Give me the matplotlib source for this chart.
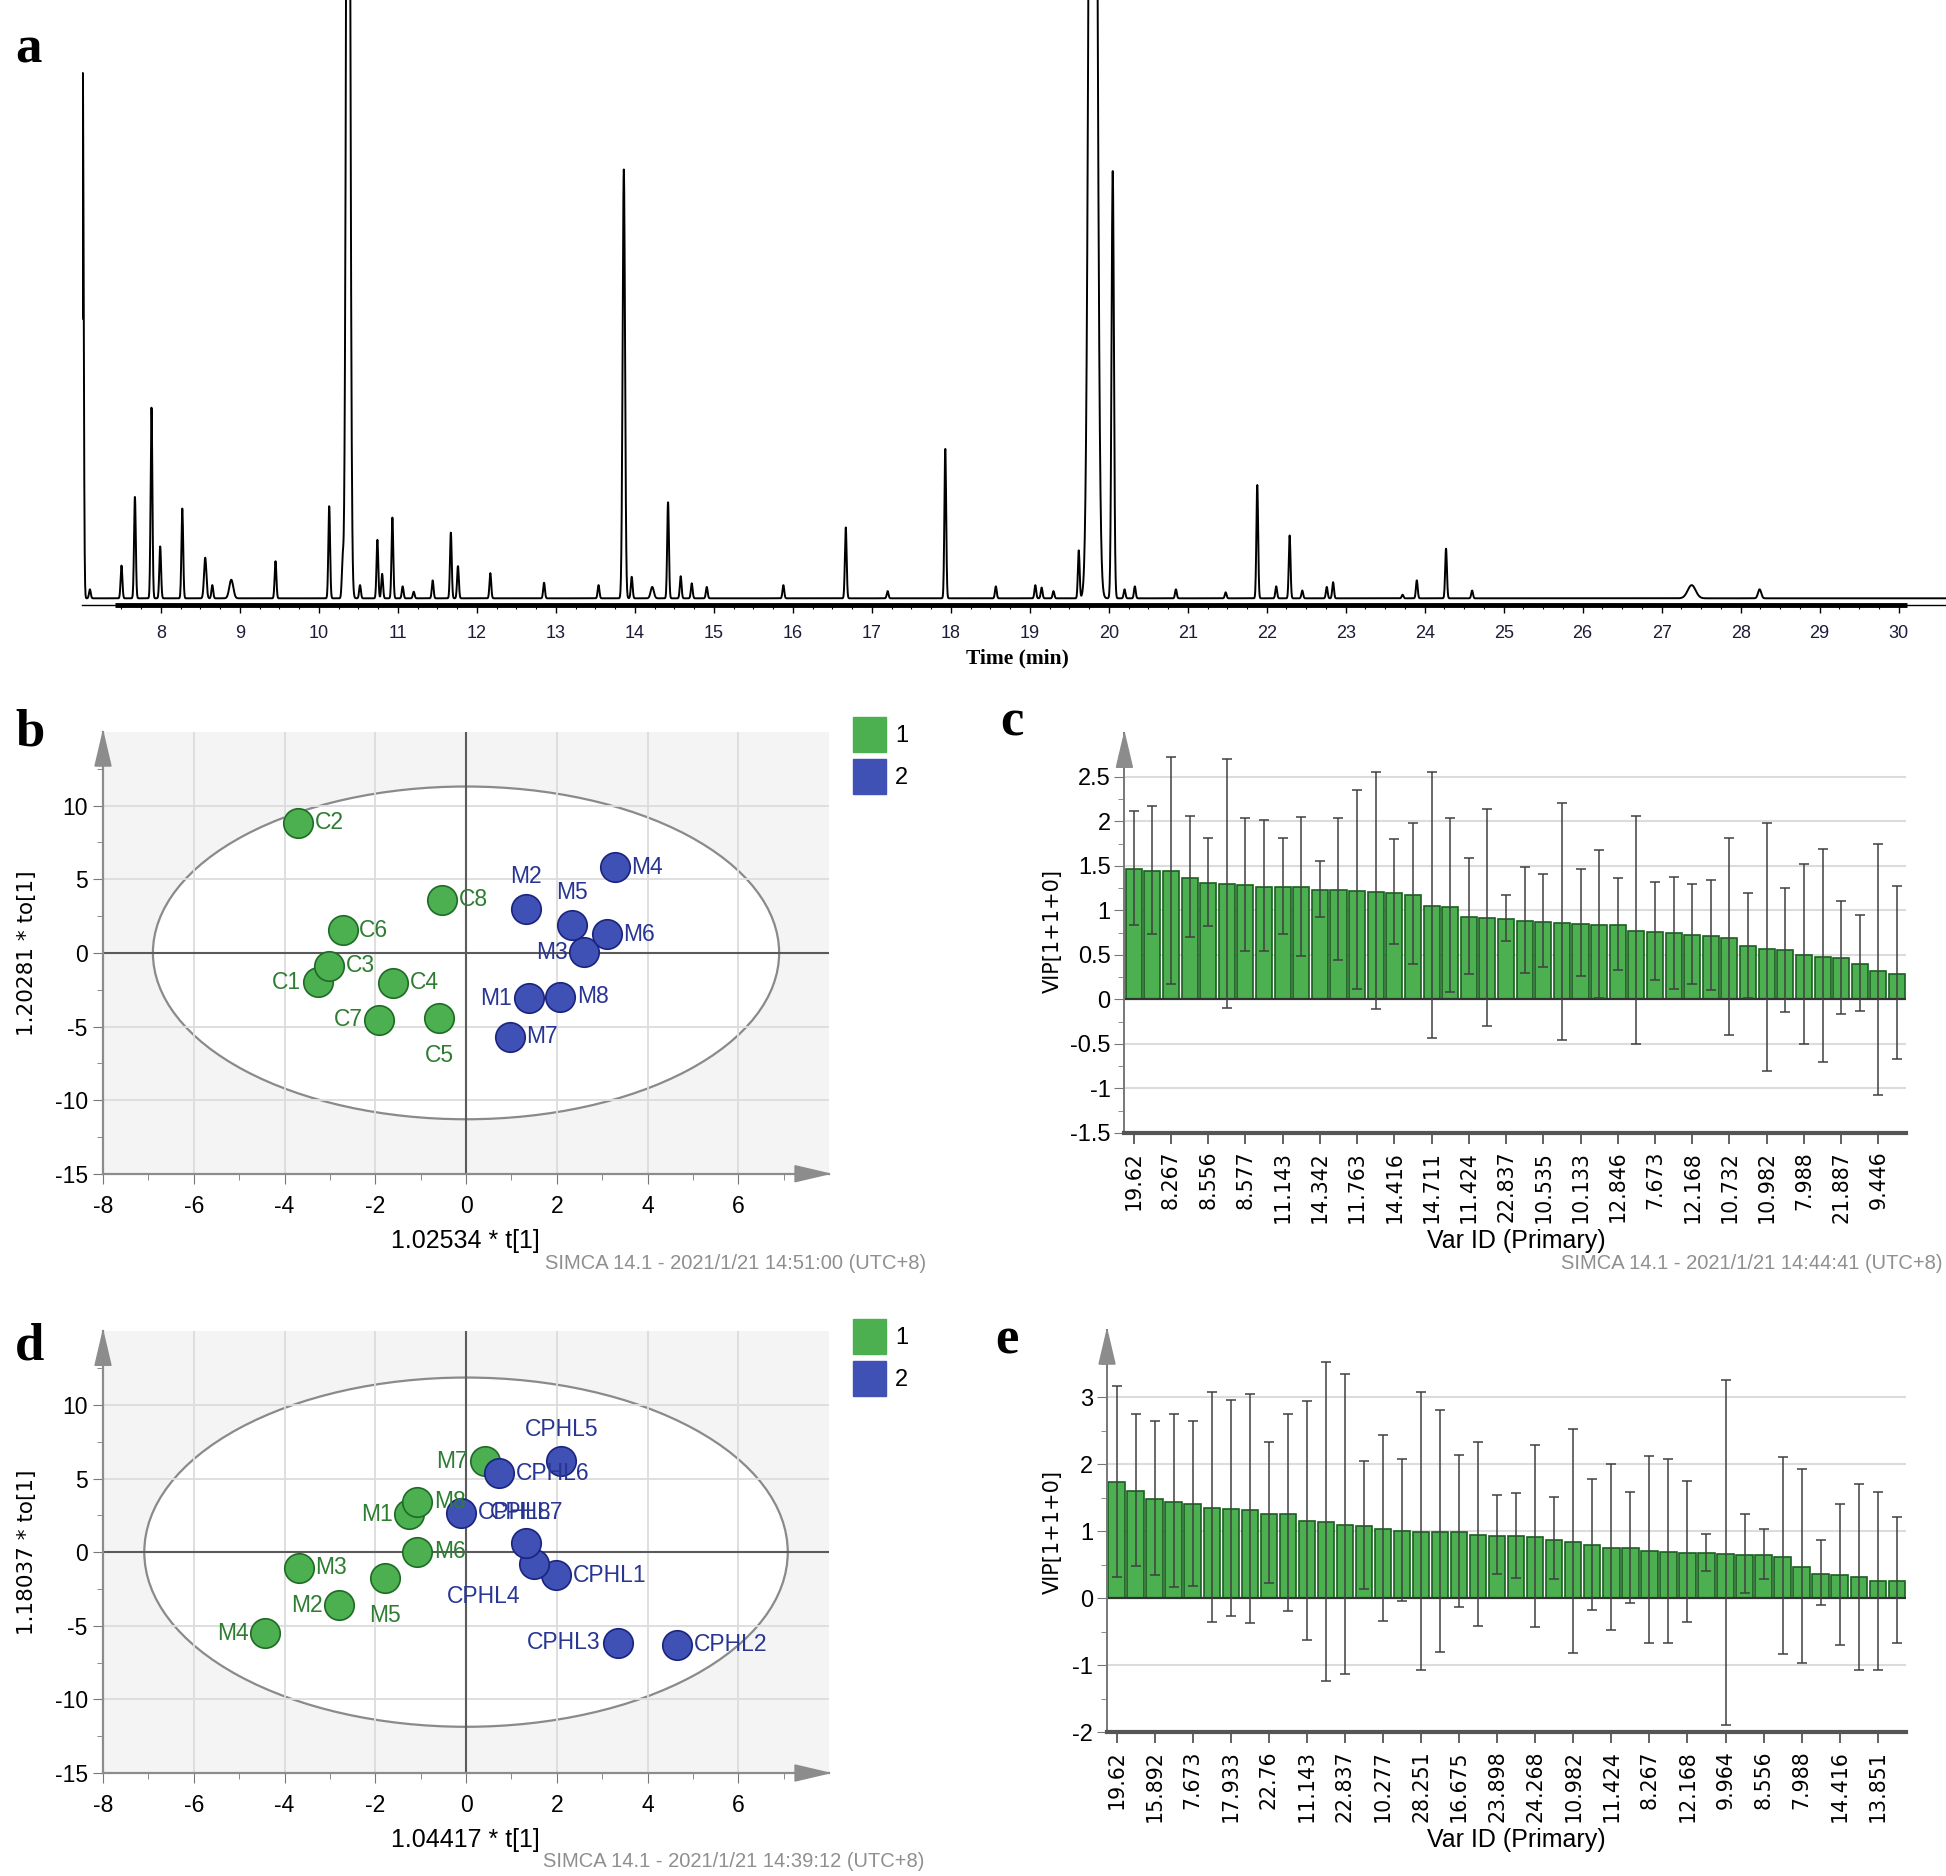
import matplotlib
matplotlib.use('Agg')
import matplotlib.pyplot as plt
import numpy as np
from matplotlib.patches import Ellipse, Polygon, Rectangle
from matplotlib import font_manager

plt.rcParams['axes.unicode_minus'] = False

installed = {f.name for f in font_manager.fontManager.ttflist}
NARROW = 'Liberation Sans Narrow' if 'Liberation Sans Narrow' in installed else 'Liberation Sans'
SERIF = 'Liberation Serif'

# ---- panel a: chromatogram peak table (retention time, relative height, width)
peak_rt = [7.01, 7.10, 7.50, 7.67, 7.88, 7.99, 8.27, 8.56, 8.65, 8.89, 9.45, 10.13, 10.30, 10.37,
           10.52, 10.74, 10.80, 10.93, 11.06, 11.20, 11.44, 11.67, 11.76, 12.17, 12.85, 13.54,
           13.86, 13.96, 14.22, 14.42, 14.58, 14.72, 14.91, 15.88, 16.67, 17.20, 17.93, 18.57,
           19.07, 19.15, 19.30, 19.62, 19.80, 20.05, 20.20, 20.33, 20.85, 21.48, 21.88, 22.12,
           22.29, 22.45, 22.76, 22.84, 23.72, 23.90, 24.27, 24.60, 27.38, 28.24]
peak_h = [0.88, 0.015, 0.055, 0.17, 0.32, 0.087, 0.15, 0.068, 0.022, 0.031, 0.062, 0.154, 0.06, 2.2,
          0.022, 0.098, 0.041, 0.135, 0.02, 0.011, 0.03, 0.11, 0.054, 0.042, 0.026, 0.022,
          0.717, 0.036, 0.019, 0.161, 0.037, 0.025, 0.019, 0.022, 0.119, 0.012, 0.25, 0.02,
          0.022, 0.018, 0.012, 0.08, 3.0, 0.714, 0.015, 0.02, 0.015, 0.01, 0.19, 0.02,
          0.105, 0.013, 0.019, 0.027, 0.006, 0.03, 0.083, 0.013, 0.022, 0.015]
peak_w = {8.56: 0.015, 8.89: 0.025, 10.37: 0.022, 13.86: 0.015, 14.22: 0.02, 19.80: 0.04,
          20.05: 0.015, 27.38: 0.05, 28.24: 0.02}

# ---- panel b: OPLS-DA scores
b_names = ['C1', 'C2', 'C3', 'C4', 'C5', 'C6', 'C7', 'C8',
           'M1', 'M2', 'M3', 'M4', 'M5', 'M6', 'M7', 'M8']
b_t = [-3.26, -3.70, -3.01, -1.60, -0.59, -2.72, -1.91, -0.53,
       1.38, 1.33, 2.61, 3.28, 2.34, 3.10, 0.96, 2.08]
b_to = [-1.99, 8.83, -0.88, -2.04, -4.40, 1.53, -4.55, 3.62,
        -3.07, 2.99, 0.03, 5.81, 1.91, 1.28, -5.68, -2.99]
b_class = [1] * 8 + [2] * 8

# ---- panel d: OPLS-DA scores
d_names = ['M1', 'M2', 'M3', 'M4', 'M5', 'M6', 'M7', 'M8',
           'CPHL1', 'CPHL2', 'CPHL3', 'CPHL4', 'CPHL5', 'CPHL6', 'CPHL7', 'CPHL8']
d_t = [-1.25, -2.79, -3.69, -4.42, -1.79, -1.07, 0.41, -1.07,
       1.99, 4.66, 3.34, 1.49, 2.10, 0.73, 1.33, -0.10]
d_to = [2.57, -3.61, -1.07, -5.52, -1.75, 0.03, 6.18, 3.43,
        -1.58, -6.28, -6.15, -0.81, 6.18, 5.37, 0.64, 2.67]
d_class = [1] * 8 + [2] * 8

# ---- panel c: VIP
c_labels = ['19.62', '8.267', '8.556', '8.577', '11.143', '14.342', '11.763', '14.416', '14.711',
            '11.424', '22.837', '10.535', '10.133', '12.846', '7.673', '12.168', '10.732',
            '10.982', '7.988', '21.887', '9.446']
c_vip = [1.46, 1.44, 1.44, 1.36, 1.31, 1.30, 1.28, 1.26, 1.26, 1.26, 1.23, 1.23, 1.22, 1.21,
         1.20, 1.17, 1.05, 1.04, 0.93, 0.91, 0.90, 0.88, 0.87, 0.86, 0.85, 0.84, 0.84, 0.77,
         0.76, 0.74, 0.72, 0.71, 0.69, 0.60, 0.57, 0.55, 0.50, 0.48, 0.46, 0.40, 0.32, 0.29]
c_hi = [2.12, 2.17, 2.72, 2.06, 1.81, 2.70, 2.04, 2.02, 1.81, 2.05, 1.56, 2.04, 2.35, 2.56,
        1.80, 1.98, 2.56, 2.04, 1.59, 2.14, 1.17, 1.49, 1.41, 2.21, 1.46, 1.68, 1.36, 2.06,
        1.32, 1.37, 1.30, 1.34, 1.81, 1.19, 1.98, 1.25, 1.52, 1.69, 1.10, 0.95, 1.75, 1.27]
c_lo = [0.83, 0.73, 0.17, 0.70, 0.82, -0.10, 0.54, 0.54, 0.73, 0.49, 0.92, 0.44, 0.12, -0.11,
        0.62, 0.40, -0.43, 0.08, 0.29, -0.30, 0.65, 0.30, 0.36, -0.46, 0.26, 0.02, 0.33, -0.50,
        0.22, 0.12, 0.17, 0.11, -0.40, 0.02, -0.81, -0.14, -0.50, -0.70, -0.16, -0.13, -1.07, -0.67]

# ---- panel e: VIP
e_labels = ['19.62', '15.892', '7.673', '17.933', '22.76', '11.143', '22.837', '10.277', '28.251',
            '16.675', '23.898', '24.268', '10.982', '11.424', '8.267', '12.168', '9.964', '8.556',
            '7.988', '14.416', '13.851']
e_vip = [1.73, 1.60, 1.48, 1.44, 1.40, 1.35, 1.33, 1.32, 1.26, 1.25, 1.15, 1.13, 1.09, 1.08,
         1.03, 1.00, 0.99, 0.99, 0.98, 0.94, 0.93, 0.92, 0.91, 0.87, 0.83, 0.79, 0.75, 0.74,
         0.71, 0.69, 0.68, 0.67, 0.66, 0.65, 0.64, 0.62, 0.47, 0.36, 0.34, 0.31, 0.26, 0.26]
e_hi = [3.16, 2.74, 2.64, 2.74, 2.65, 3.07, 2.96, 3.05, 2.33, 2.74, 2.94, 3.53, 3.35, 2.04,
        2.44, 2.07, 3.08, 2.81, 2.13, 2.33, 1.54, 1.57, 2.28, 1.51, 2.52, 1.78, 2.00, 1.58,
        2.12, 2.08, 1.74, 0.95, 3.25, 1.25, 1.03, 2.11, 1.93, 0.86, 1.40, 1.70, 1.59, 1.21]
e_lo = [0.32, 0.48, 0.35, 0.17, 0.18, -0.35, -0.27, -0.37, 0.22, -0.20, -0.62, -1.24, -1.14, 0.14,
        -0.34, -0.05, -1.07, -0.80, -0.14, -0.41, 0.36, 0.30, -0.43, 0.29, -0.82, -0.18, -0.47, -0.07,
        -0.67, -0.67, -0.35, 0.41, -1.90, 0.08, 0.28, -0.84, -0.97, -0.11, -0.70, -1.07, -1.07, -0.67]

GREEN, GREEN_EDGE, GREEN_TXT = '#4caf50', '#1f6b25', '#2e7d32'
BLUE, BLUE_EDGE, BLUE_TXT = '#3f51b5', '#1a237e', '#283593'
GRID = '#dcdcdc'

W, H = 1568.0, 1512.0  # layout measured on the shrunk reference


def fx(x):
    return x / W


def fy(y):
    return 1 - y / H


fig = plt.figure(figsize=(19.46, 18.76), dpi=100)
FIG_W, FIG_H = 1946.0, 1876.0


def spine_arrow(ax, up=True, color='#8c8c8c'):
    pos = ax.get_position()
    wpx, hpx = pos.width * FIG_W, pos.height * FIG_H
    if up:
        pts = [(-8 / wpx, 1 - 34 / hpx), (8 / wpx, 1 - 34 / hpx), (0, 1)]
    else:
        pts = [(1 - 34 / wpx, -8 / hpx), (1 - 34 / wpx, 8 / hpx), (1, 0)]
    ax.add_patch(Polygon(pts, closed=True, transform=ax.transAxes, color=color,
                         clip_on=False, zorder=6))


# ================= panel a =================
ax = fig.add_axes([82 / FIG_W, fy(488), 1 - 82 / FIG_W, 488 / H])
t = np.linspace(6.995, 30.6, 9000)
sig = np.zeros_like(t)
for rt, h in zip(peak_rt, peak_h):
    w = peak_w.get(rt, 0.011)
    sig += h * np.exp(-0.5 * ((t - rt) / w) ** 2)
ax.plot(t, sig, color='black', lw=1.4)
ax.set_xlim(7.0, 30.6)
ax.set_ylim(-0.012, 1.0)
for s in ['top', 'right', 'left']:
    ax.spines[s].set_visible(False)
ax.spines['bottom'].set_linewidth(1.0)
ax.plot([7.42, 30.11], [-0.012, -0.012], color='black', lw=3.5, clip_on=False,
        solid_capstyle='butt')
ax.set_yticks([])
ax.set_xticks(range(8, 31))
ax.set_xticks(np.arange(7.5, 30.01, 0.25), minor=True)
ax.tick_params(axis='x', which='major', length=6, width=1, pad=8, labelsize=13,
               labelcolor='#1c1c3a')
ax.tick_params(axis='x', which='minor', length=3, width=0.8)
for lab in ax.get_xticklabels():
    lab.set_fontfamily('Liberation Sans')
fig.text(fx(820), fy(531), 'Time (min)', ha='center', va='center', family=SERIF,
         weight='bold', fontsize=15.5)


# ================= panels b / d =================
def score_plot(rect, xs, ys, names, cls, ell, place, xlabel, ylabel, xl_pos, yl_pos,
               stamp, stamp_pos, legend_y):
    ax = fig.add_axes(rect)
    ax.set_facecolor('#f4f4f4')
    ax.set_xlim(-8, 8)
    ax.set_ylim(-15, 15)
    ax.add_patch(Ellipse((0, 0), 2 * ell[0], 2 * ell[1], facecolor='white',
                         edgecolor='#8a8a8a', lw=1.6, zorder=1))
    for gx in range(-6, 7, 2):
        ax.axvline(gx, color=GRID, lw=1.3, zorder=1.5)
    for gy in [-10, -5, 5, 10]:
        ax.axhline(gy, color=GRID, lw=1.3, zorder=1.5)
    ax.axvline(0, color='#5a5a5a', lw=1.5, zorder=2)
    ax.axhline(0, color='#5a5a5a', lw=1.5, zorder=2)
    for i, (x, y, n, c) in enumerate(zip(xs, ys, names, cls)):
        fc, ec, tc = (GREEN, GREEN_EDGE, GREEN_TXT) if c == 1 else (BLUE, BLUE_EDGE, BLUE_TXT)
        ax.scatter([x], [y], s=450, color=fc, edgecolor=ec, lw=1.2, zorder=3 + i * 0.01)
        mode = place.get(n, 'right')
        if isinstance(mode, tuple):
            off, ha = mode, 'center'
        elif mode == 'left':
            off, ha = (-12, 0), 'right'
        elif mode == 'above':
            off, ha = (0, 23), 'center'
        elif mode == 'below':
            off, ha = (0, -27), 'center'
        else:
            off, ha = (12, 0), 'left'
        ax.annotate(n, (x, y), xytext=off, textcoords='offset points', ha=ha, va='center',
                    color=tc, fontsize=16.5, family=NARROW, zorder=5)
    for s in ['top', 'right']:
        ax.spines[s].set_visible(False)
    for s in ['left', 'bottom']:
        ax.spines[s].set_color('#8c8c8c')
        ax.spines[s].set_linewidth(1.6)
    ax.set_xticks(range(-8, 7, 2))
    ax.set_xticks(range(-8, 8), minor=True)
    ax.set_yticks(range(-15, 11, 5))
    ax.set_yticks(np.arange(-15, 13, 2.5), minor=True)
    ax.tick_params(which='major', length=7, color='#777777', labelsize=16.5, pad=4)
    ax.tick_params(which='minor', length=4, color='#777777')
    ax.tick_params(axis='x', pad=8)
    for lab in ax.get_xticklabels() + ax.get_yticklabels():
        lab.set_fontfamily(NARROW)
    spine_arrow(ax, up=True)
    spine_arrow(ax, up=False)
    fig.text(fx(xl_pos[0]), fy(xl_pos[1]), xlabel, ha='center', va='center',
             family=NARROW, fontsize=18)
    fig.text(fx(yl_pos[0]), fy(yl_pos[1]), ylabel, ha='center', va='center',
             rotation=90, fontsize=15.5)
    fig.text(fx(stamp_pos[0]), fy(stamp_pos[1]), stamp, ha='right', va='center',
             family=NARROW, fontsize=14.5, color='#8f8f8f')
    # class legend
    for k, (col, lab) in enumerate([(GREEN, '1'), (BLUE, '2')]):
        y0 = legend_y + k * 34
        fig.add_artist(Rectangle((fx(687), fy(y0 + 28)), 27 / W, 28 / H, transform=fig.transFigure,
                                 facecolor=col, edgecolor=col))
        fig.text(fx(721), fy(y0 + 15), lab, ha='left', va='center', family=NARROW, fontsize=17)
    return ax


b_place = {'C1': 'left', 'C7': 'left', 'C5': 'below', 'M2': 'above', 'M5': 'above',
           'M3': 'left', 'M1': 'left'}
score_plot([fx(83), fy(946), 585 / W, 356 / H], b_t, b_to, b_names, b_class, (6.9, 11.3),
           b_place, '1.02534 * t[1]', '1.20281 * to[1]', (375, 1000), (22, 768),
           'SIMCA 14.1 - 2021/1/21 14:51:00 (UTC+8)', (746, 1018), 578)

d_place = {'M7': 'left', 'M1': 'left', 'M5': 'below', 'M2': 'left', 'M4': 'left',
           'CPHL3': 'left', 'CPHL5': 'above', 'CPHL7': (0, 22), 'CPHL4': (-36, -23)}
score_plot([fx(83), fy(1429), 585 / W, 356 / H], d_t, d_to, d_names, d_class, (7.09, 11.86),
           d_place, '1.04417 * t[1]', '1.18037 * to[1]', (375, 1483), (22, 1251),
           'SIMCA 14.1 - 2021/1/21 14:39:12 (UTC+8)', (745, 1500), 1063)


# ================= panels c / e =================
def vip_plot(rect, labels, vip, hi, lo, ylim, yticks, minor_step, xl_pos, yl_pos, stamp=None,
             stamp_pos=None):
    ax = fig.add_axes(rect)
    n = len(vip)
    x = np.arange(n)
    vip = np.array(vip)
    yerr = [vip - np.array(lo), np.array(hi) - vip]
    for gy in yticks[1:]:
        if gy != 0:
            ax.axhline(gy, color=GRID, lw=1.5, zorder=0)
    ax.bar(x, vip, width=0.86, color=GREEN, edgecolor='#1b5e20', lw=1.2, zorder=2)
    ax.errorbar(x, vip, yerr=yerr, fmt='none', ecolor='#404040', elinewidth=1.1, capsize=3.5,
                capthick=1.1, zorder=3)
    ax.axhline(0, color='#333333', lw=1.6, zorder=2.5)
    ax.set_xlim(-0.5, n - 0.5)
    ax.set_ylim(*ylim)
    for s in ['top', 'right']:
        ax.spines[s].set_visible(False)
    ax.spines['left'].set_color('#777777')
    ax.spines['left'].set_linewidth(1.4)
    ax.spines['bottom'].set_color('#555555')
    ax.spines['bottom'].set_linewidth(3)
    ax.set_xticks(x[::2])
    ax.set_xticklabels(labels, rotation=90, fontsize=14.8)
    ax.set_yticks(yticks)
    ax.set_yticklabels([f'{v:g}' for v in yticks], family=NARROW, fontsize=17)
    ax.set_yticks(np.arange(ylim[0], ylim[1], minor_step), minor=True)
    ax.tick_params(axis='x', length=8, width=1.3, color='#555555', pad=5)
    ax.tick_params(axis='y', which='major', length=7, color='#777777', pad=3)
    ax.tick_params(axis='y', which='minor', length=4, color='#777777')
    spine_arrow(ax, up=True)
    fig.text(fx(xl_pos[0]), fy(xl_pos[1]), 'Var ID (Primary)', ha='center', va='center',
             family=NARROW, fontsize=18)
    fig.text(fx(yl_pos[0]), fy(yl_pos[1]), 'VIP[1+1+0]', ha='center', va='center',
             rotation=90, fontsize=15)
    if stamp:
        fig.text(fx(stamp_pos[0]), fy(stamp_pos[1]), stamp, ha='right', va='center',
                 family=NARROW, fontsize=14.5, color='#8f8f8f')
    return ax


vip_plot([fx(906), fy(913), 630 / W, 322 / H], c_labels, c_vip, c_hi, c_lo, (-1.5, 2.99),
         [-1.5, -1, -0.5, 0, 0.5, 1, 1.5, 2, 2.5], 0.25, (1222, 1000), (848, 750),
         'SIMCA 14.1 - 2021/1/21 14:44:41 (UTC+8)', (1565, 1018))
vip_plot([fx(892), fy(1396), 644 / W, 324 / H], e_labels, e_vip, e_hi, e_lo, (-2, 4.0),
         [-2, -1, 0, 1, 2, 3], 0.5, (1222, 1483), (848, 1235))

# panel letters
for letter, (px, py) in {'a': (12, 40), 'b': (12, 590), 'c': (806, 582), 'd': (12, 1085),
                         'e': (802, 1080)}.items():
    fig.text(fx(px), fy(py), letter, ha='left', va='center', family=SERIF, weight='bold',
             fontsize=38)

fig.savefig('out.png', dpi=100)
